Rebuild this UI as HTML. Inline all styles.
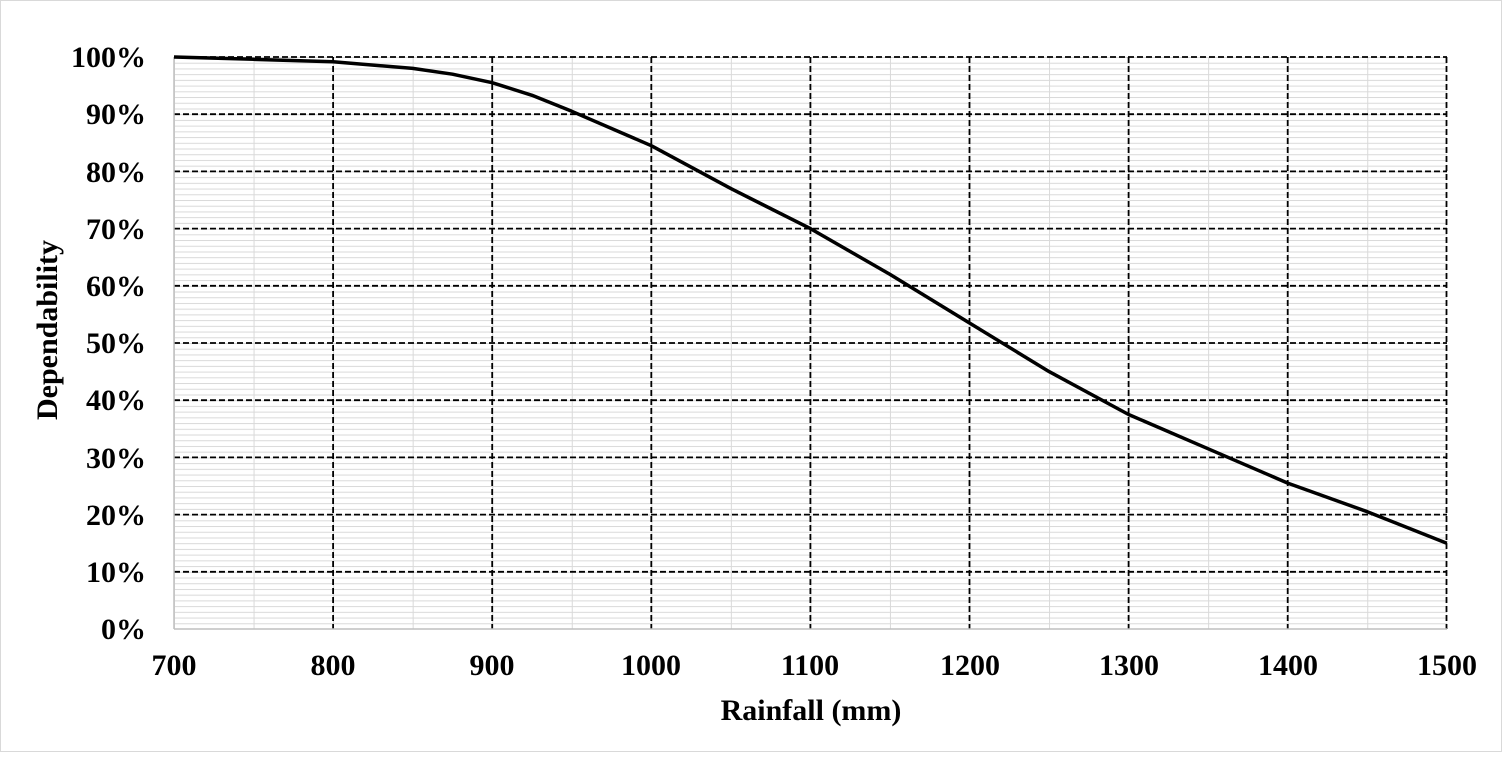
<!DOCTYPE html>
<html><head><style>body{margin:0;background:#fff}</style></head><body>
<svg width="1502" height="752" xmlns="http://www.w3.org/2000/svg" font-family="Liberation Serif, serif" font-weight="bold">
<defs>
<pattern id="mh" x="0" y="629" width="10" height="5.72" patternUnits="userSpaceOnUse"><line x1="0" y1="0.5" x2="10" y2="0.5" stroke="#d9d9d9" stroke-width="1"/></pattern>
<pattern id="mv" x="174" y="0" width="79.55" height="10" patternUnits="userSpaceOnUse"><line x1="0.5" y1="0" x2="0.5" y2="10" stroke="#d9d9d9" stroke-width="1"/></pattern>
</defs>
<rect x="0.5" y="0.5" width="1501" height="751" fill="#fff" stroke="#d9d9d9"/>
<rect x="174" y="57" width="1273" height="572" fill="url(#mh)"/>
<rect x="174" y="57" width="1273" height="572" fill="url(#mv)"/>
<g stroke="#000" stroke-width="1.8" stroke-dasharray="6,3">
<line x1="174" y1="57" x2="1447" y2="57"/><line x1="174" y1="114.2" x2="1447" y2="114.2"/><line x1="174" y1="171.4" x2="1447" y2="171.4"/><line x1="174" y1="228.6" x2="1447" y2="228.6"/><line x1="174" y1="285.8" x2="1447" y2="285.8"/><line x1="174" y1="343" x2="1447" y2="343"/><line x1="174" y1="400.2" x2="1447" y2="400.2"/><line x1="174" y1="457.4" x2="1447" y2="457.4"/><line x1="174" y1="514.6" x2="1447" y2="514.6"/><line x1="174" y1="571.8" x2="1447" y2="571.8"/>
<line x1="333.1" y1="57" x2="333.1" y2="629"/><line x1="492.2" y1="57" x2="492.2" y2="629"/><line x1="651.3" y1="57" x2="651.3" y2="629"/><line x1="810.4" y1="57" x2="810.4" y2="629"/><line x1="969.5" y1="57" x2="969.5" y2="629"/><line x1="1128.6" y1="57" x2="1128.6" y2="629"/><line x1="1287.7" y1="57" x2="1287.7" y2="629"/><line x1="1446.5" y1="57" x2="1446.5" y2="629"/>
</g>
<line x1="174" y1="57" x2="174" y2="629" stroke="#bfbfbf" stroke-width="1.5"/>
<line x1="174" y1="629" x2="1447" y2="629" stroke="#bfbfbf" stroke-width="1.5"/>
<polyline fill="none" stroke="#000" stroke-width="3.5" stroke-linejoin="round" points="174,57 253.5,59.3 333.1,61.8 412.7,68.4 452.5,74.2 492.2,82.7 532,95.3 571.8,111.3 651.3,145.7 730.9,188.6 810.4,228.6 890,274.4 969.5,323 1049.1,371.6 1128.6,414.5 1208.2,448.8 1287.7,483.1 1367.3,511.7 1446.8,543.2"/>
<g font-size="30" text-anchor="end">
<text x="146" y="67">100%</text><text x="146" y="124">90%</text><text x="146" y="182">80%</text><text x="146" y="239">70%</text><text x="146" y="296">60%</text><text x="146" y="353">50%</text><text x="146" y="410">40%</text><text x="146" y="468">30%</text><text x="146" y="525">20%</text><text x="146" y="582">10%</text><text x="146" y="639">0%</text>
</g>
<g font-size="30" text-anchor="middle">
<text x="174" y="675">700</text><text x="333" y="675">800</text><text x="492" y="675">900</text><text x="651" y="675">1000</text><text x="810" y="675">1100</text><text x="970" y="675">1200</text><text x="1129" y="675">1300</text><text x="1288" y="675">1400</text><text x="1447" y="675">1500</text>
<text x="811" y="720">Rainfall  (mm)</text>
<text x="0" y="0" transform="translate(57,330) rotate(-90)">Dependability</text>
</g>
</svg>
</body></html>
